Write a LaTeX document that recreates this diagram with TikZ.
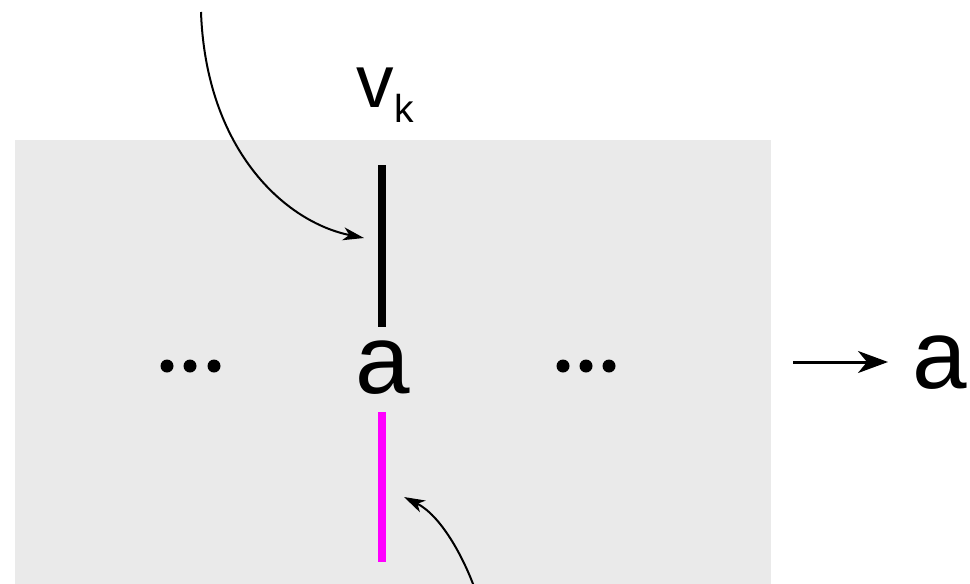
\documentclass[tikz,border=0pt]{standalone}
\usepackage{fontspec}
\setmainfont{Liberation Sans}
\usetikzlibrary{arrows.meta}
\definecolor{panelgray}{HTML}{EAEAEA}
\definecolor{hilite}{HTML}{FF00FF}
\tikzset{
  bigtxt/.style={inner sep=0pt, outer sep=0pt, anchor=base, font=\fontsize{98}{98}\selectfont},
  pointer/.style={line width=2pt, -{Stealth[length=21pt, width=13pt, inset=6pt]}},
  mainarrow/.style={line width=3pt, -{Stealth[length=30pt, width=22pt, inset=9pt]}},
  edgebar/.style={line width=8pt},
  dotmark/.style={circle, fill=black, inner sep=0pt, minimum size=13pt},
}
\begin{document}
\begin{tikzpicture}[x=1pt, y=-1pt]
\useasboundingbox (0,0) rectangle (970,584);
\begin{scope}
\clip (0,0) rectangle (970,584);
\fill[panelgray] (15,140) rectangle (771,600);
% vertex label
\node[inner sep=0pt, outer sep=0pt, anchor=base] (vk) at (385,107)
  {\fontsize{75}{75}\selectfont v\raisebox{-15pt}{\fontsize{39}{39}\selectfont k}};
% centre entry
\node[bigtxt] (ca) at (382.5,393) {a};
% bars
\coordinate (btop) at (382,165);
\coordinate (bbot) at (382,327);
\draw[edgebar, black] (btop) -- (bbot);
\coordinate (mtop) at (382,412);
\coordinate (mbot) at (382,562);
\draw[edgebar, hilite] (mtop) -- (mbot);
% dots
\node[dotmark] (l1) at (167,366) {};
\node[dotmark] (l2) at (190,366) {};
\node[dotmark] (l3) at (214,366) {};
\node[dotmark] (r1) at (563,366) {};
\node[dotmark] (r2) at (586,366) {};
\node[dotmark] (r3) at (609,366) {};
% curved pointers
\coordinate (p1s) at (201,12);
\coordinate (p1e) at (364,238);
\draw[pointer] (p1s) .. controls (206,150) and (285,222) .. (p1e);
\coordinate (p2s) at (476,592);
\coordinate (p2e) at (404,497);
\draw[pointer] (p2s) .. controls (463,555) and (440,515) .. (p2e);
% result
\node[bigtxt] (ra) at (940,388) {a};
\coordinate (arrs) at (793,362);
\coordinate (arre) at (888,362);
\draw[mainarrow] (arrs) -- (arre);
\end{scope}
\end{tikzpicture}
\end{document}
